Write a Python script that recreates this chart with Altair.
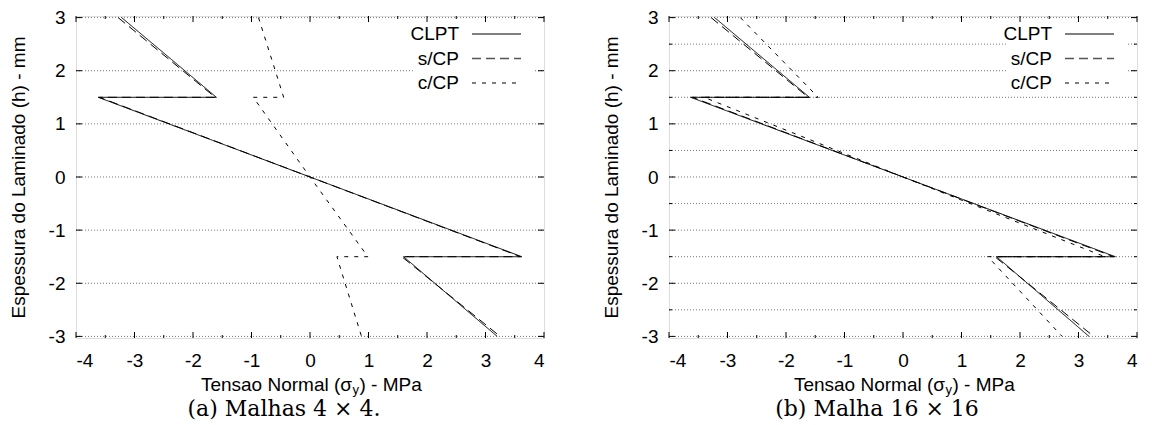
import altair as alt
import pandas as pd

# ---------------- data ----------------
series_names = ["CLPT", "s/CP", "c/CP"]
h_points = [3.0, 1.5, 1.5, 0.0, -1.5, -1.5, -3.0]

# panel (a) Malhas 4x4
a_clpt = [-3.22, -1.60, -3.62, 0.0, 3.62, 1.60, 3.20]
a_scp = [-3.28, -1.62, -3.60, 0.0, 3.60, 1.57, 3.25]
a_ccp = [-0.88, -0.45, -0.97, 0.0, 0.99, 0.46, 0.88]

# panel (b) Malha 16x16
b_clpt = [-3.22, -1.60, -3.63, 0.0, 3.63, 1.60, 3.18]
b_scp = [-3.28, -1.62, -3.60, 0.0, 3.60, 1.57, 3.26]
b_ccp = [-2.78, -1.45, -3.40, 0.0, 3.45, 1.45, 2.72]

x_major = [-4, -3, -2, -1, 0, 1, 2, 3, 4]
x_minor = [-3.5, -2.5, -1.5, -0.5, 0.5, 1.5, 2.5, 3.5]
y_major = [-3, -2, -1, 0, 1, 2, 3]
y_half = [-2.5, -1.5, -0.5, 0.5, 1.5, 2.5]
grid_a = [-3, -2, -1, 0, 1, 2, 3]
grid_b = [-3, -2.5, -2, -1.5, -1, -0.5, 0, 0.5, 1, 1.5, 2, 2.5, 3]

captions = ["(a) Malhas 4 \u00d7 4.", "(b) Malha 16 \u00d7 16"]
y_title = "Espessura do Laminado (h) - mm"

# ---------------- style ----------------
W, H = 468, 322
SANS = "Liberation Sans"
SERIF = "DejaVu Serif"
FS = 19
dash = {"CLPT": [1, 0], "s/CP": [9, 5], "c/CP": [4, 6]}

xs = alt.Scale(domain=[-4, 4], nice=False, zero=False)
ys = alt.Scale(domain=[-3.03, 3.03], nice=False, zero=False)
one = alt.Data(values=[{}])

x_axis = alt.Axis(
    values=x_major, labelExpr="'' + datum.value", ticks=False, tickSize=0,
    domain=False, grid=False, labelPadding=13, labelFontSize=FS,
    labelFont=SANS, labelColor="black", title=None)
y_axis = alt.Axis(
    values=y_major, labelExpr="'' + datum.value", ticks=False, tickSize=0,
    domain=False, grid=False, labelPadding=11, labelFontSize=FS,
    labelFont=SANS, labelColor="black", title=y_title, titleFont=SANS,
    titleFontSize=FS, titleFontWeight="normal", titleColor="black",
    titlePadding=20)


def panel(sx, grid_y, y_minor, caption):
    rows = []
    for name, xv in zip(series_names, sx):
        for i, (x, h) in enumerate(zip(xv, h_points)):
            rows.append({"series": name, "i": i, "sigma": x, "h": h})
    df = pd.DataFrame(rows)

    lines = alt.Chart(df).mark_line(color="black", strokeWidth=1).encode(
        x=alt.X("sigma:Q", scale=xs, axis=x_axis),
        y=alt.Y("h:Q", scale=ys, axis=y_axis),
        strokeDash=alt.StrokeDash("series:N", scale=alt.Scale(
            domain=series_names, range=[dash[n] for n in series_names]), legend=None),
        detail="series:N",
        order="i:Q",
    )

    grid = alt.Chart(pd.DataFrame({"gy": grid_y})).mark_rule(
        color="#777777", strokeWidth=1, strokeDash=[1, 2]
    ).encode(y=alt.Y("gy:Q", scale=ys, axis=y_axis), x=alt.value(0), x2=alt.value(W))

    box = alt.Chart(one).mark_rect(color="white").encode(
        x=alt.value(337), x2=alt.value(458), y=alt.value(4), y2=alt.value(78)
    )

    layers = [grid, box, lines]

    # legend
    for k, name in enumerate(series_names):
        yy = 18 + 24.5 * k
        layers.append(alt.Chart(one).mark_text(
            text=name, align="right", baseline="middle", font=SANS, fontSize=FS, color="black"
        ).encode(x=alt.value(383), y=alt.value(yy)))
        layers.append(alt.Chart(one).mark_rule(
            color="#555555", strokeWidth=1.5, strokeDash=dash[name]
        ).encode(x=alt.value(396), x2=alt.value(445), y=alt.value(yy)))

    # ticks (inward, gnuplot style)
    def xt(vals, ln):
        d = pd.DataFrame({"tx": vals})
        b = alt.Chart(d).mark_rule(color="black", strokeWidth=1).encode(
            x=alt.X("tx:Q", scale=xs, axis=x_axis), y=alt.value(H), y2=alt.value(H - ln))
        t = alt.Chart(d).mark_rule(color="black", strokeWidth=1).encode(
            x=alt.X("tx:Q", scale=xs, axis=x_axis), y=alt.value(0), y2=alt.value(ln))
        return [b, t]

    def yt(vals, ln):
        d = pd.DataFrame({"ty": vals})
        l = alt.Chart(d).mark_rule(color="black", strokeWidth=1).encode(
            y=alt.Y("ty:Q", scale=ys, axis=y_axis), x=alt.value(0), x2=alt.value(ln))
        r = alt.Chart(d).mark_rule(color="black", strokeWidth=1).encode(
            y=alt.Y("ty:Q", scale=ys, axis=y_axis), x=alt.value(W), x2=alt.value(W - ln))
        return [l, r]

    layers += xt(x_major, 6) + xt(x_minor, 3) + yt(y_major, 6)
    if y_minor:
        layers += yt(y_minor, 3)

    # x title with subscript, centred under the plot
    cx = W / 2
    ty = 369
    layers.append(alt.Chart(one).mark_text(
        text="Tensao Normal (\u03c3", align="right", baseline="middle", font=SANS,
        fontSize=FS, color="black").encode(x=alt.value(cx + 42), y=alt.value(ty)))
    layers.append(alt.Chart(one).mark_text(
        text="y", align="left", baseline="middle", font=SANS,
        fontSize=13, color="black").encode(x=alt.value(cx + 42.5), y=alt.value(ty + 5)))
    layers.append(alt.Chart(one).mark_text(
        text=") - MPa", align="left", baseline="middle", font=SANS,
        fontSize=FS, color="black").encode(x=alt.value(cx + 49.5), y=alt.value(ty)))

    # caption
    layers.append(alt.Chart(one).mark_text(
        text=caption, align="center", baseline="middle", font=SERIF,
        fontSize=22, color="black").encode(x=alt.value(cx - 26), y=alt.value(393)))

    return alt.layer(*layers).properties(width=W, height=H)


left = panel([a_clpt, a_scp, a_ccp], grid_a, None, captions[0])
right = panel([b_clpt, b_scp, b_ccp], grid_b, y_half, captions[1])

chart = alt.hconcat(left, right, spacing=56).properties(
    padding={"left": 0, "top": 0, "right": 0, "bottom": 0}
).configure_view(stroke="black", strokeWidth=1).configure(background="white")

chart.save("out.html", embed_options={"renderer": "svg", "actions": False})
